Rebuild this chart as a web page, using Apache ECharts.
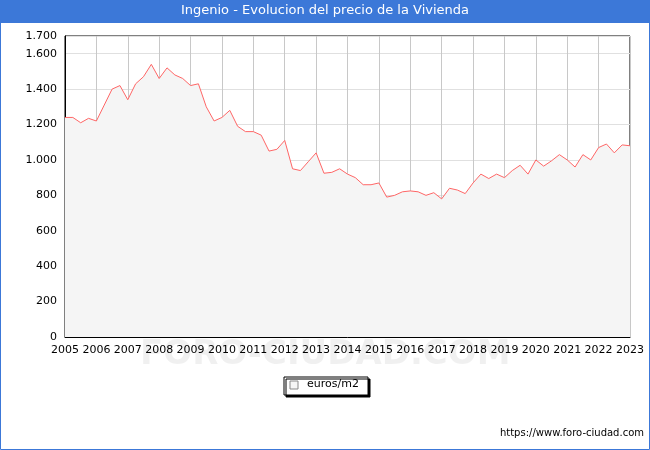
<!DOCTYPE html><html><head><meta charset="utf-8"><script src="https://cdn.jsdelivr.net/npm/echarts@6/dist/echarts.min.js"></script>
<style>body{margin:0}#c{width:650px;height:450px}</style></head><body><div id="c"></div><script>
const startYear=2005;
const values=[1240,1240,1210,1235,1220,1310,1400,1420,1340,1430,1470,1540,1460,1520,1480,1460,1420,1430,1300,1220,1240,1280,1190,1160,1160,1140,1050,1060,1110,950,940,990,1040,925,930,950,920,900,860,860,870,790,800,820,825,820,800,815,780,840,830,810,870,920,895,920,900,940,970,920,1000,965,995,1030,1000,960,1030,1000,1070,1090,1040,1085,1080];
const data=values.map((v,i)=>[startYear+i/4,v]);
const c=echarts.init(document.getElementById('c'));
c.setOption({animation:false,backgroundColor:'#fff',
graphic:[{type:'rect',shape:{x:0,y:0,width:650,height:23},style:{fill:'#3c78d8'}},
{type:'rect',shape:{x:0.5,y:0.5,width:649,height:449},style:{fill:'none',stroke:'#3c78d8'}},
{type:'text',left:'center',top:4,style:{text:'Ingenio - Evolucion del precio de la Vivienda',fill:'#fff',font:'13px DejaVu Sans'}},
{type:'text',left:140,top:338,style:{text:'FORO-CIUDAD.COM',fill:'rgba(0,0,0,0.06)',font:'bold 34px DejaVu Sans'}},
{type:'text',right:6,top:428,style:{text:'https://www.foro-ciudad.com',fill:'#000',font:'10px DejaVu Sans'}},
{type:'rect',shape:{x:284,y:377,width:84,height:18},style:{fill:'#fff',stroke:'#000',shadowColor:'#000',shadowOffsetX:2,shadowOffsetY:2}},
{type:'rect',shape:{x:290,y:381,width:8,height:8},style:{fill:'#f5f5f5',stroke:'#888'}},
{type:'text',left:307,top:379,style:{text:'euros/m2',fill:'#000',font:'11px DejaVu Sans'}}],
grid:{left:65,right:20,top:36,bottom:113,show:true,borderColor:'#000',borderWidth:1},
xAxis:{type:'value',min:2005,max:2023,interval:1,axisLine:{lineStyle:{color:'#000'}},axisTick:{show:false},
axisLabel:{color:'#000',fontSize:11,fontFamily:'DejaVu Sans',formatter:v=>String(v)},splitLine:{lineStyle:{color:'#c8c8c8'}}},
yAxis:{type:'value',min:0,max:1700,interval:200,axisLine:{show:true,lineStyle:{color:'#000'}},axisTick:{show:false},
axisLabel:{color:'#000',fontSize:11,fontFamily:'DejaVu Sans',formatter:v=>v.toLocaleString('de-DE')},splitLine:{lineStyle:{color:'#e0e0e0'}}},
series:[{type:'line',data:data,symbol:'none',lineStyle:{color:'#ff6666',width:1},areaStyle:{color:'#f5f5f5',opacity:1}}]});
</script></body></html>
